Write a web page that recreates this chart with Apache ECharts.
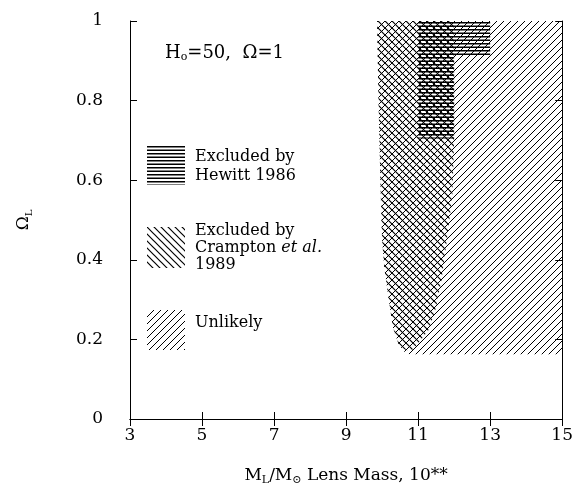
<!DOCTYPE html>
<html>
<head>
<meta charset="utf-8">
<script src="https://cdn.jsdelivr.net/npm/echarts@6/dist/echarts.min.js"></script>
<style>
html, body { margin: 0; padding: 0; background: #fff; }
#chart { width: 576px; height: 491px; }
</style>
</head>
<body>
<div id="chart"></div>
<script>
// axis ticks
var xTicks = [3, 5, 7, 9, 11, 13, 15]
var yTicks = [0, 0.2, 0.4, 0.6, 0.8, 1]

// region outlines, [lens mass exponent, Omega_L]
var unlikelyPts = [
  [9.86, 1], [9.9, 0.8], [9.95, 0.6], [10.0, 0.45], [10.06, 0.38], [10.2, 0.29],
  [10.3, 0.23], [10.45, 0.19], [10.6, 0.17], [10.75, 0.163], [15, 0.163], [15, 1]
]
var cramptonPts = [
  [9.86, 1], [9.9, 0.8], [9.95, 0.6], [10.0, 0.45], [10.06, 0.38], [10.2, 0.29],
  [10.3, 0.23], [10.45, 0.19], [10.6, 0.175], [10.8, 0.17], [11.0, 0.19],
  [11.3, 0.225], [11.5, 0.28], [11.65, 0.35], [11.8, 0.45], [11.95, 0.56],
  [12.0, 0.7], [12.0, 1]
]
var hewittPts = [
  [11, 1], [13, 1], [13, 0.91], [12, 0.91], [12, 0.705], [11, 0.705]
]

var serif = '"DejaVu Serif", serif'

function makeHatch (kind, size, lw) {
  var c = document.createElement('canvas')
  c.width = size
  c.height = size
  var ctx = c.getContext('2d')
  ctx.strokeStyle = '#000'
  ctx.lineWidth = lw
  ctx.beginPath()
  if (kind === 'fwd') {
    ctx.moveTo(-1, size + 1); ctx.lineTo(size + 1, -1)
    ctx.moveTo(-1, 1); ctx.lineTo(1, -1)
    ctx.moveTo(size - 1, size + 1); ctx.lineTo(size + 1, size - 1)
  } else if (kind === 'back') {
    ctx.moveTo(-1, -1); ctx.lineTo(size + 1, size + 1)
    ctx.moveTo(size - 1, -1); ctx.lineTo(size + 1, 1)
    ctx.moveTo(-1, size - 1); ctx.lineTo(1, size + 1)
  } else {
    // two lines per tile: period of size / 2
    ctx.moveTo(0, size / 4); ctx.lineTo(size, size / 4)
    ctx.moveTo(0, size * 3 / 4); ctx.lineTo(size, size * 3 / 4)
  }
  ctx.stroke()
  return { image: c, repeat: 'repeat' }
}

var fwdFill = makeHatch('fwd', 7, 1)
var backFill = makeHatch('back', 7, 1.2)
var horFill = makeHatch('hor', 7, 1.5)

function regionSeries (pts, fill, z) {
  return {
    type: 'custom',
    z: z,
    silent: true,
    data: pts,
    renderItem: function (params, api) {
      if (params.dataIndex !== 0) return null
      return {
        type: 'polygon',
        shape: { points: pts.map(function (p) { return api.coord(p) }) },
        style: { fill: fill, stroke: null }
      }
    }
  }
}

var axisCommon = {
  type: 'value',
  axisLine: { show: true, lineStyle: { color: '#000', width: 1 } },
  axisTick: { show: true, inside: true, length: 7, lineStyle: { color: '#000' } },
  splitLine: { show: false }
}

var labelStyle = { color: '#000', fontFamily: serif, fontSize: 17 }

var option = {
  animation: false,
  backgroundColor: '#fff',
  grid: { left: 130, right: 9, top: 21, bottom: 59 },
  xAxis: [
    Object.assign({}, axisCommon, {
      min: xTicks[0], max: xTicks[xTicks.length - 1], interval: 2,
      position: 'bottom',
      axisLabel: Object.assign({ margin: 8 }, labelStyle),
      name: '{a|M}{s|L}{a|/M}{s|⊙}{a| Lens Mass, 10**}',
      nameLocation: 'middle',
      nameGap: 46,
      nameTextStyle: {
        rich: {
          a: { fontFamily: serif, fontSize: 17, color: '#000' },
          s: { fontFamily: serif, fontSize: 11, color: '#000', verticalAlign: 'bottom', padding: [10, 0, 0, 0] }
        }
      }
    }),
    Object.assign({}, axisCommon, {
      min: xTicks[0], max: xTicks[xTicks.length - 1], interval: 2,
      position: 'top',
      axisLabel: { show: false }
    })
  ],
  yAxis: [
    Object.assign({}, axisCommon, {
      min: yTicks[0], max: yTicks[yTicks.length - 1], interval: 0.2,
      position: 'left',
      axisLabel: Object.assign({ margin: 27 }, labelStyle),
      name: '{a|Ω}{s|L}',
      nameLocation: 'middle',
      nameGap: 96,
      nameTextStyle: {
        rich: {
          a: { fontFamily: serif, fontSize: 17, color: '#000' },
          s: { fontFamily: serif, fontSize: 10, color: '#000', padding: [10, 0, 0, 0] }
        }
      }
    }),
    Object.assign({}, axisCommon, {
      min: yTicks[0], max: yTicks[yTicks.length - 1], interval: 0.2,
      position: 'right',
      axisLabel: { show: false }
    })
  ],
  graphic: [
    {
      type: 'text', left: 165, top: 44,
      style: {
        text: '{a|H}{s|o}{a|=50,  Ω=1}',
        rich: {
          a: { fontFamily: serif, fontSize: 18, fill: '#000' },
          s: { fontFamily: serif, fontSize: 11, fill: '#000', padding: [9, 0, 0, 0] }
        }
      }
    },
    { type: 'rect', left: 147, top: 145, shape: { width: 38, height: 40 }, style: { fill: horFill } },
    { type: 'rect', left: 147, top: 227, shape: { width: 38, height: 41 }, style: { fill: backFill } },
    { type: 'rect', left: 147, top: 310, shape: { width: 38, height: 40 }, style: { fill: fwdFill } },
    { type: 'text', left: 195, top: 147, style: { text: 'Excluded by\nHewitt 1986', font: '16px ' + serif, lineHeight: 19, fill: '#000' } },
    {
      type: 'text', left: 195, top: 223,
      style: {
        text: '{a|Excluded by}\n{a|Crampton }{i|et al.}\n{a|1989}',
        rich: {
          a: { fontFamily: serif, fontSize: 16, lineHeight: 17, fill: '#000' },
          i: { fontFamily: serif, fontSize: 16, fontStyle: 'italic', lineHeight: 17, fill: '#000' }
        }
      }
    },
    { type: 'text', left: 195, top: 315, style: { text: 'Unlikely', font: '16px ' + serif, fill: '#000' } }
  ],
  series: [
    regionSeries(unlikelyPts, fwdFill, 2),
    regionSeries(cramptonPts, backFill, 3),
    regionSeries(hewittPts, horFill, 4)
  ]
}

var myChart = echarts.init(document.getElementById('chart'))
myChart.setOption(option)
</script>
</body>
</html>
